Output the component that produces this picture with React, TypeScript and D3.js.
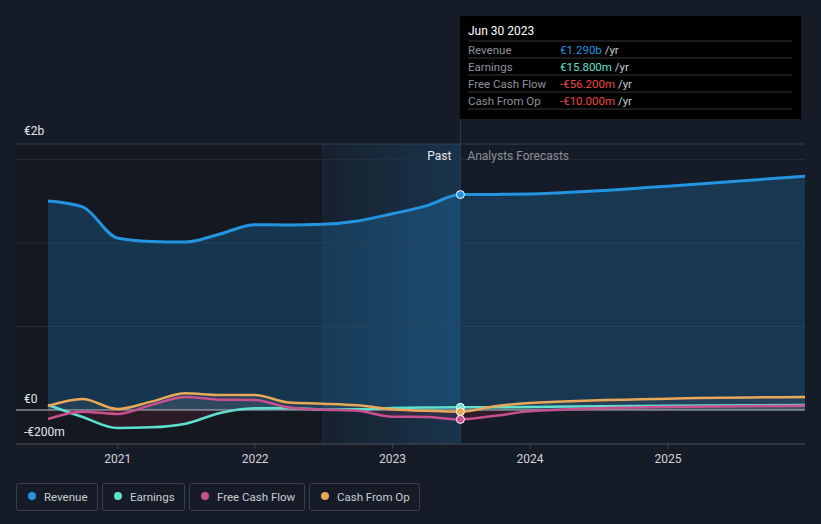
import React, { useEffect, useRef } from 'react';
import * as d3 from 'd3';

// values in € millions
const pastDates = [
  '2020-06-30', '2020-09-30', '2020-12-31', '2021-03-31', '2021-06-30', '2021-09-30', '2021-12-31',
  '2022-03-31', '2022-06-30', '2022-09-30', '2022-12-31', '2023-03-31', '2023-06-30',
];
const forecastDates = ['2023-06-30', '2023-09-30', '2023-12-31', '2024-12-31', '2025-12-31'];

const revenuePast = [1251, 1216, 1030, 1009, 1006, 1054, 1110, 1108, 1112, 1132, 1175, 1222, 1290];
const earningsPast = [30, -42, -108, -104, -82, -18, 10, 12, 2, 4, 12, 15, 15.8];
const fcfPast = [-54, -10, -24, 30, 78, 62, 60, 15, 2, -5, -40, -42, -56.2];
const cfoPast = [24, 66, 6, 50, 100, 90, 90, 45, 38, 28, 5, -5, -10];

const revenueForecast = [1290, 1291, 1294, 1340, 1400];
const earningsForecast = [15.8, 16, 18, 25, 30];
const fcfForecast = [-56.2, -35, -8, 18, 25];
const cfoForecast = [-10, 22, 42, 68, 78];

const yearTicks = ['2021', '2022', '2023', '2024', '2025'];
const yTickLabels = ['€2b', '€0', '-€200m'];

const tooltipRows = [
  { label: 'Revenue', value: '€1.290b', color: '#2394df' },
  { label: 'Earnings', value: '€15.800m', color: '#5fe0cf' },
  { label: 'Free Cash Flow', value: '-€56.200m', color: '#f04646' },
  { label: 'Cash From Op', value: '-€10.000m', color: '#f04646' },
];

const seriesNames = ['Revenue', 'Earnings', 'Free Cash Flow', 'Cash From Op'];
const seriesColors = ['#2394df', '#5fe0cf', '#c9508f', '#e8a857'];

type Pt = { date: Date; value: number };

const W = 821;
const H = 524;

const App: React.FC = () => {
  const svgRef = useRef<SVGSVGElement>(null);

  useEffect(() => {
    if (!svgRef.current) return;
    const parse = d3.timeParse('%Y-%m-%d');
    const svg = d3.select(svgRef.current);
    svg.selectAll('*').remove();

    const plotLeft = 16;
    const plotRight = 805;
    const plotTop = 144;
    const plotBottom = 444;

    const x = d3.scaleTime()
      .domain([parse('2020-06-30')!, parse('2025-12-31')!])
      .range([48, 805]);
    const y = d3.scaleLinear().domain([0, 1000]).range([410, 243]);

    const mk = (dates: string[], vals: number[]): Pt[] =>
      dates.map((d, i) => ({ date: parse(d)!, value: vals[i] }));

    const series = [
      [...mk(pastDates, revenuePast), ...mk(forecastDates, revenueForecast).slice(1)],
      [...mk(pastDates, earningsPast), ...mk(forecastDates, earningsForecast).slice(1)],
      [...mk(pastDates, fcfPast), ...mk(forecastDates, fcfForecast).slice(1)],
      [...mk(pastDates, cfoPast), ...mk(forecastDates, cfoForecast).slice(1)],
    ];

    const nowX = x(parse('2023-06-30')!);
    const hlX = x(parse('2022-06-30')!);

    svg.append('rect').attr('width', W).attr('height', H).attr('fill', '#161c27');

    const defs = svg.append('defs');
    const grad = defs.append('linearGradient').attr('id', 'pastGrad')
      .attr('x1', '0%').attr('x2', '100%').attr('y1', '0%').attr('y2', '0%');
    grad.append('stop').attr('offset', '0%').attr('stop-color', '#2394df').attr('stop-opacity', 0.04);
    grad.append('stop').attr('offset', '100%').attr('stop-color', '#2394df').attr('stop-opacity', 0.2);

    defs.append('clipPath').attr('id', 'abovezero').append('rect')
      .attr('x', 0).attr('y', 0).attr('width', W).attr('height', y(0));
    defs.append('clipPath').attr('id', 'belowzero').append('rect')
      .attr('x', 0).attr('y', y(0)).attr('width', W).attr('height', H);

    // past darker band + highlighted last year
    svg.append('rect')
      .attr('x', plotLeft).attr('y', plotTop)
      .attr('width', hlX - plotLeft).attr('height', plotBottom - plotTop)
      .attr('fill', '#10141c').attr('opacity', 0.5);
    svg.append('rect')
      .attr('x', hlX).attr('y', plotTop)
      .attr('width', nowX - hlX).attr('height', plotBottom - plotTop)
      .attr('fill', 'url(#pastGrad)');
    svg.append('line')
      .attr('x1', hlX).attr('x2', hlX).attr('y1', plotTop).attr('y2', plotBottom)
      .attr('stroke', '#1f2c3b').attr('stroke-width', 1);

    // grid
    svg.append('line')
      .attr('x1', plotLeft).attr('x2', plotRight).attr('y1', plotTop).attr('y2', plotTop)
      .attr('stroke', '#3b404b').attr('stroke-width', 1);
    [500, 1000, 1500].forEach(v => {
      svg.append('line')
        .attr('x1', plotLeft).attr('x2', plotRight).attr('y1', y(v)).attr('y2', y(v))
        .attr('stroke', '#2a303b').attr('stroke-width', 1).attr('opacity', 0.8);
    });

    // bottom axis
    svg.append('line')
      .attr('x1', plotLeft).attr('x2', plotRight).attr('y1', plotBottom).attr('y2', plotBottom)
      .attr('stroke', '#3b404b').attr('stroke-width', 1.5);
    yearTicks.forEach(t => {
      const xx = x(parse(`${t}-01-01`)!);
      svg.append('line')
        .attr('x1', xx).attr('x2', xx).attr('y1', plotBottom).attr('y2', plotBottom + 5)
        .attr('stroke', '#3b404b');
      svg.append('text')
        .attr('x', xx).attr('y', plotBottom + 19)
        .attr('text-anchor', 'middle')
        .attr('font-size', 12).attr('fill', '#d0d3d9')
        .text(t);
    });

    // y labels
    const yLabelPos = [plotTop - 9, y(0) - 7, plotBottom - 8];
    yTickLabels.forEach((t, i) => {
      svg.append('text')
        .attr('x', 24).attr('y', yLabelPos[i])
        .attr('font-size', 12).attr('fill', '#e2e5ea')
        .text(t);
    });

    const curve = d3.curveMonotoneX;

    // revenue area + line
    const area = d3.area<Pt>().x(d => x(d.date)).y0(y(0)).y1(d => y(d.value)).curve(curve);
    const line = d3.line<Pt>().x(d => x(d.date)).y(d => y(d.value)).curve(curve);

    svg.append('path').datum(series[0]).attr('d', area)
      .attr('fill', '#2394df').attr('opacity', 0.24);

    // small series areas
    [1, 2, 3].forEach(i => {
      svg.append('path').datum(series[i]).attr('d', area)
        .attr('clip-path', 'url(#abovezero)')
        .attr('fill', '#9aa0aa').attr('opacity', 0.1);
      svg.append('path').datum(series[i]).attr('d', area)
        .attr('clip-path', 'url(#belowzero)')
        .attr('fill', '#e0304a').attr('opacity', 0.12);
    });

    // zero line
    svg.append('line')
      .attr('x1', plotLeft).attr('x2', plotRight).attr('y1', y(0)).attr('y2', y(0))
      .attr('stroke', '#b8bcc4').attr('stroke-width', 1.2);

    svg.append('path').datum(series[0]).attr('d', line)
      .attr('fill', 'none').attr('stroke', seriesColors[0]).attr('stroke-width', 3);
    [1, 2, 3].forEach(i => {
      svg.append('path').datum(series[i]).attr('d', line)
        .attr('fill', 'none').attr('stroke', seriesColors[i]).attr('stroke-width', 2.5);
    });

    // current line
    svg.append('line')
      .attr('x1', nowX).attr('x2', nowX).attr('y1', 119).attr('y2', plotBottom)
      .attr('stroke', '#234058').attr('stroke-width', 1);

    // dots at current date
    [0, 1, 3, 2].forEach(i => {
      const p = series[i][pastDates.length - 1];
      svg.append('circle')
        .attr('cx', x(p.date)).attr('cy', y(p.value)).attr('r', 4)
        .attr('fill', seriesColors[i]).attr('stroke', '#ffffff').attr('stroke-width', 1);
    });

    // Past / Analysts Forecasts
    svg.append('text')
      .attr('x', nowX - 9).attr('y', 160).attr('text-anchor', 'end')
      .attr('font-size', 12).attr('fill', '#e8eaee').text('Past');
    svg.append('text')
      .attr('x', nowX + 7).attr('y', 160)
      .attr('font-size', 12).attr('fill', '#8b9099').text('Analysts Forecasts');

    // tooltip
    const tt = svg.append('g');
    tt.append('rect').attr('x', 460).attr('y', 16).attr('width', 341).attr('height', 103).attr('fill', '#000');
    tt.append('text').attr('x', 468).attr('y', 35).attr('font-size', 12)
      .attr('fill', '#ffffff').text('Jun 30 2023');
    [41, 58, 75, 92, 109].forEach(yy => {
      tt.append('line').attr('x1', 468).attr('x2', 792).attr('y1', yy).attr('y2', yy)
        .attr('stroke', '#363636').attr('stroke-width', 1);
    });
    tooltipRows.forEach((r, i) => {
      const by = 54 + i * 17;
      tt.append('text').attr('x', 468).attr('y', by).attr('font-size', 11.5)
        .attr('fill', '#8e9299').text(r.label);
      const t = tt.append('text').attr('x', 560).attr('y', by).attr('font-size', 11.5);
      t.append('tspan').attr('fill', r.color).text(r.value);
      t.append('tspan').attr('fill', '#c9ccd2').text(' /yr');
    });

    // legend
    const legendX = [16, 102, 189, 309];
    const legendW = [81, 82, 115, 110];
    seriesNames.forEach((n, i) => {
      const g = svg.append('g').attr('transform', `translate(${legendX[i]},483)`);
      g.append('rect').attr('x', 0.5).attr('y', 0.5).attr('width', legendW[i]).attr('height', 27)
        .attr('rx', 2).attr('fill', 'none').attr('stroke', '#3a3f4a');
      g.append('circle').attr('cx', 16).attr('cy', 13).attr('r', 4).attr('fill', seriesColors[i]);
      g.append('text').attr('x', 28).attr('y', 17.5).attr('font-size', 11.5).attr('fill', '#c9ccd2').text(n);
    });
  }, []);

  return (
    <div style={{ position: 'fixed', left: 0, top: 0, width: W, height: H }}>
      <svg ref={svgRef} width={W} height={H} style={{ display: 'block', fontFamily: 'Roboto, sans-serif' }} />
    </div>
  );
};

export default App;
